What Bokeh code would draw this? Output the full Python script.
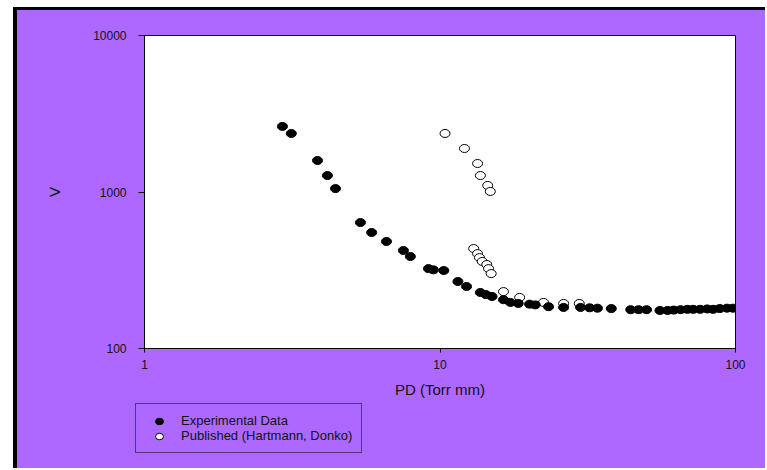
from bokeh.plotting import figure
from bokeh.models import (Range1d, FixedTicker, PrintfTickFormatter, Legend, LegendItem,
                          Div, Spacer)
from bokeh.layouts import row, column
from bokeh.embed import file_html
from bokeh.resources import INLINE

# ---- data ----
exp_pd = [2.93, 3.14, 3.85, 4.16, 4.43, 5.38, 5.87, 6.59, 7.52, 7.94, 9.14, 9.5, 10.3,
          11.5, 12.3, 13.7, 14.3, 15.0, 16.4, 17.3, 18.4, 20.1, 21.0, 23.3, 26.2, 29.9,
          32.1, 34.1, 38.0, 44.2, 47.0, 50.0, 55.5, 58.9, 61.8, 65.2, 68.7, 71.9, 75.9,
          80.2, 84.0, 88.5, 93.6, 98.0]
exp_v = [2624, 2366, 1589, 1274, 1052, 638, 551, 483, 423, 387, 324, 318, 315,
         268, 249, 228, 221, 215, 205, 197, 194, 192, 190, 185, 183, 183,
         182, 181, 180, 177, 177, 177, 175, 175, 176, 177, 178, 178, 178,
         179, 178, 180, 181, 181]

pub_pd = [10.4, 12.1, 13.4, 13.7, 14.5, 14.8, 13.0, 13.4, 13.6, 13.9, 14.4, 14.6, 14.9,
          16.4, 18.6, 22.4, 26.2, 29.6]
pub_v = [2366, 1897, 1521, 1274, 1101, 1008, 435, 404, 381, 360, 344, 324, 301,
         231, 212, 197, 194, 194]

x_ticks = [1, 10, 100]
y_ticks = [100, 1000, 10000]
series_names = ["Experimental Data", "Published (Hartmann, Donko)"]
x_label = "PD (Torr mm)"
y_label = "V"

PURPLE = "#AD69FF"
FONT = "Liberation Sans"
W, H1, H2 = 748, 392, 66

p = figure(width=W, height=H1, x_axis_type="log", y_axis_type="log",
           x_range=Range1d(1, 100), y_range=Range1d(100, 10000),
           output_backend="svg", toolbar_location=None,
           min_border_left=127, min_border_right=30, min_border_top=25,
           min_border_bottom=54,
           background_fill_color="white", border_fill_color=PURPLE)

p.grid.visible = False
p.outline_line_color = "black"
p.outline_line_width = 1

p.xaxis.ticker = FixedTicker(ticks=x_ticks, minor_ticks=[])
p.yaxis.ticker = FixedTicker(ticks=y_ticks, minor_ticks=[])
p.xaxis.formatter = PrintfTickFormatter(format="%d")
p.yaxis.formatter = PrintfTickFormatter(format="%d")

for ax in (p.xaxis, p.yaxis):
    ax.axis_line_color = "black"
    ax.major_tick_line_color = "black"
    ax.major_tick_in = 0
    ax.minor_tick_line_color = None
    ax.major_label_text_font = FONT
    ax.major_label_text_font_size = "12px"
    ax.major_label_text_color = "#111111"
    ax.axis_label_text_font = FONT
    ax.axis_label_text_font_style = "normal"
    ax.axis_label_text_color = "#111111"

p.xaxis.major_tick_out = 4
p.yaxis.major_tick_out = 6
p.xaxis.major_label_standoff = 7
p.yaxis.major_label_standoff = 12
p.xaxis.axis_label = x_label
p.yaxis.axis_label = y_label
p.xaxis.axis_label_text_font_size = "15px"
p.yaxis.axis_label_text_font_size = "15px"
p.xaxis.axis_label_standoff = 9
p.yaxis.axis_label_standoff = 27

r_pub = p.ellipse(pub_pd, pub_v, width=10, height=8, width_units="screen",
                  height_units="screen", fill_color="white", line_color="black",
                  line_width=1)
r_exp = p.ellipse(exp_pd, exp_v, width=10, height=8, width_units="screen",
                  height_units="screen", fill_color="black", line_color="black",
                  line_width=1)

# ---- legend strip (separate small canvas below the chart) ----
q = figure(width=W, height=H2, x_range=Range1d(0, 1), y_range=Range1d(0, 1),
           output_backend="svg", toolbar_location=None,
           x_axis_location=None, y_axis_location=None,
           min_border=0, background_fill_color=PURPLE, border_fill_color=PURPLE)
q.frame_align = False
q.grid.visible = False
q.outline_line_color = None
l_exp = q.ellipse([-5], [-5], width=10, height=8, width_units="screen",
                  height_units="screen", fill_color="black", line_color="black")
l_pub = q.ellipse([-5], [-5], width=10, height=8, width_units="screen",
                  height_units="screen", fill_color="white", line_color="black")

legend = Legend(items=[LegendItem(label=series_names[0], renderers=[l_exp]),
                       LegendItem(label=series_names[1], renderers=[l_pub])],
                location=(118, 15), orientation="vertical")
legend.border_line_color = "black"
legend.border_line_width = 1
legend.background_fill_color = PURPLE
legend.background_fill_alpha = 1
legend.label_text_font = FONT
legend.label_text_font_size = "13px"
legend.label_text_color = "#111111"
legend.glyph_width = 28
legend.glyph_height = 10
legend.label_height = 15
legend.label_standoff = 8
legend.padding = 9
legend.spacing = 0
legend.margin = 0
q.add_layout(legend, "center")

top_bar = Div(text="", width=W, height=3, margin=(0, 0, 0, 0),
              styles={"background-color": "black"})
left_bar = Div(text="", width=4, height=H1 + H2 + 3, margin=(0, 0, 0, 0),
               styles={"background-color": "black"})
layout = column(
    Spacer(width=W, height=7),
    row(Spacer(width=13, height=H1 + H2 + 3), left_bar,
        column(top_bar, p, q, spacing=0, styles={"background-color": PURPLE}),
        spacing=0),
    spacing=0)

open("out.html", "w").write(file_html(layout, INLINE))
